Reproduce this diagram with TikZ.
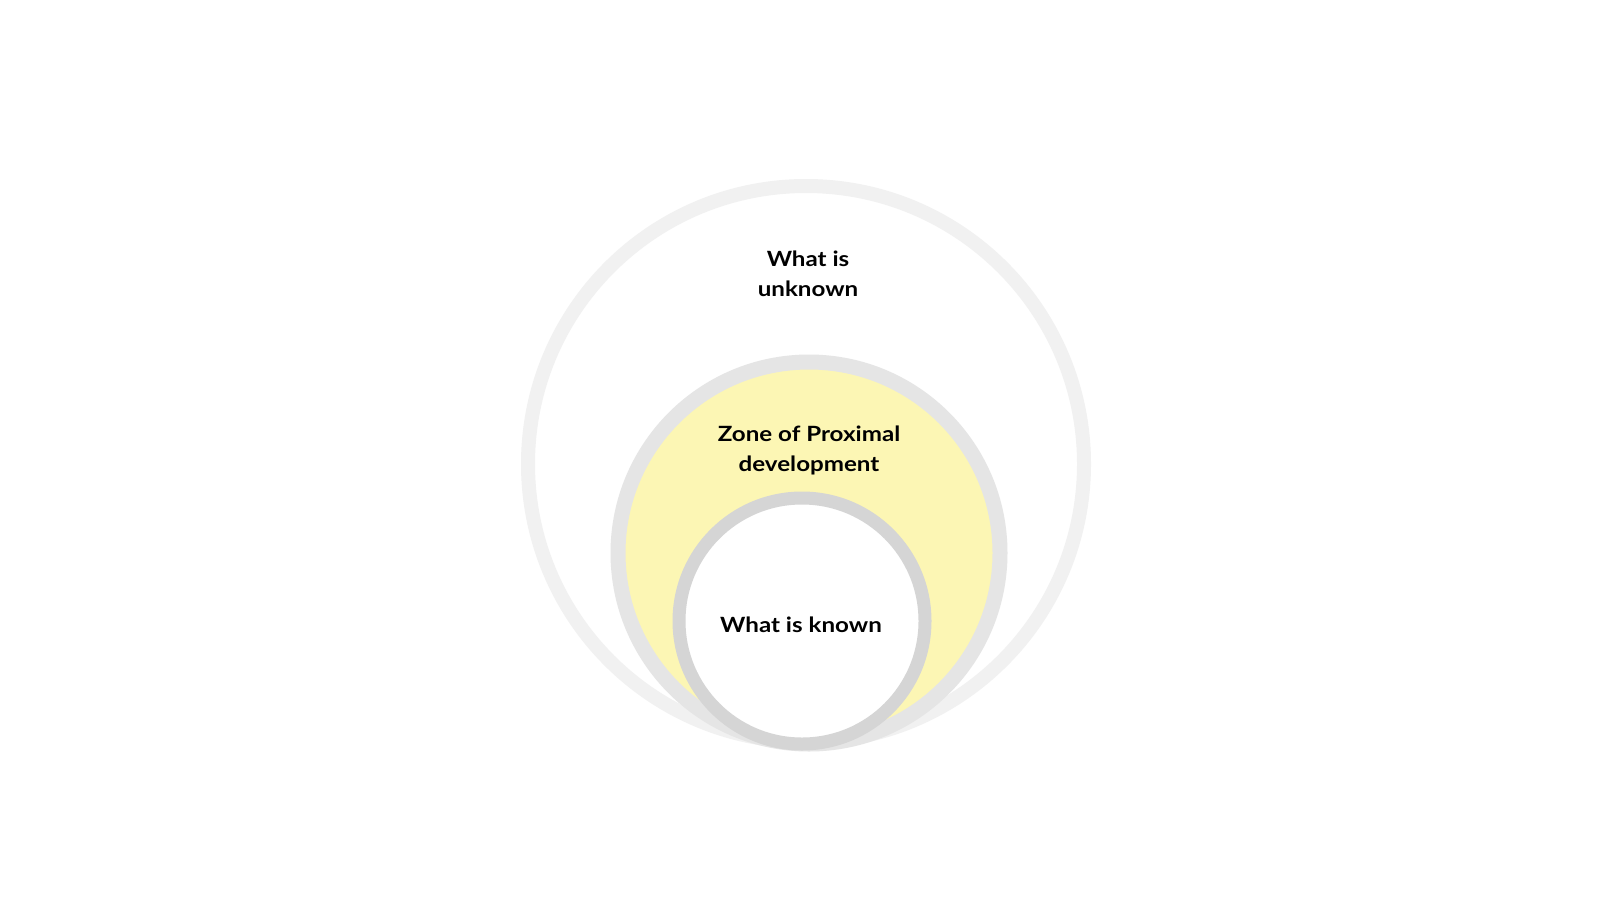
\documentclass[tikz,border=0pt]{standalone}
\usepackage{fontspec}
\setmainfont{Lato}[BoldFont={Lato Bold},BoldFeatures={FakeStretch=1.15}]
\definecolor{outerring}{HTML}{F1F1F1}
\definecolor{midring}{HTML}{E5E5E5}
\definecolor{innerring}{HTML}{D5D5D5}
\definecolor{zpdfill}{HTML}{FCF6B4}
\begin{document}
\begin{tikzpicture}[x=1pt,y=-1pt,
  lbl/.style={align=center,font=\fontsize{21}{30}\selectfont\bfseries,text=black,inner sep=0pt}]
\useasboundingbox (0,0) rectangle (1600,900);
\fill[white] (0,0) rectangle (1600,900);
% outer circle
\coordinate (co) at (806,464);
\draw[outerring,line width=14pt,fill=white] (co) circle[radius=278];
% middle circle
\coordinate (cm) at (809,553);
\draw[midring,line width=15pt,fill=zpdfill] (cm) circle[radius=191];
% inner circle
\coordinate (ci) at (802,621);
\draw[innerring,line width=13pt,fill=white] (ci) circle[radius=123];
% labels
\node[lbl] (unknown) at (808,274) {What is\\unknown};
\node[lbl] (zpd) at (809,450) {Zone of Proximal\\development};
\node[lbl] (known) at (801,625) {What is known};
\end{tikzpicture}
\end{document}
